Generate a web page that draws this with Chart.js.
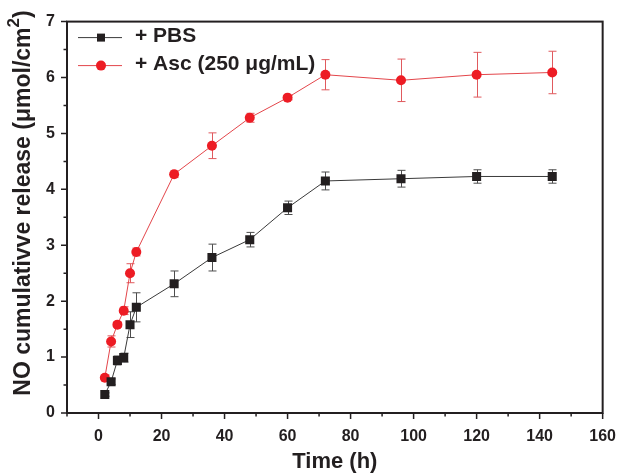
<!DOCTYPE html>
<html>
<head>
<meta charset="utf-8">
<script src="https://cdn.jsdelivr.net/npm/chart.js@4.4.1/dist/chart.umd.min.js"></script>
<style>
  html, body { margin: 0; padding: 0; background: #fff; }
</style>
</head>
<body>
<canvas id="releaseChart" width="630" height="475"></canvas>
<script>
// Sampling times (h)
const timeHours = [2, 4, 6, 8, 10, 12, 24, 36, 48, 60, 72, 96, 120, 144];

// + PBS
const pbsRelease = [0.33, 0.56, 0.94, 0.99, 1.58, 1.89, 2.31, 2.78, 3.10, 3.67, 4.15, 4.19, 4.23, 4.23];
const pbsError   = [0.03, 0.05, 0.08, 0.08, 0.23, 0.26, 0.23, 0.24, 0.13, 0.12, 0.16, 0.15, 0.12, 0.12];

// + Asc (250 µg/mL)
const ascRelease = [0.63, 1.28, 1.58, 1.83, 2.50, 2.88, 4.27, 4.78, 5.28, 5.64, 6.05, 5.95, 6.05, 6.09];
const ascError   = [0.05, 0.10, 0.05, 0.07, 0.17, 0.07, 0.06, 0.23, 0.08, 0.04, 0.27, 0.38, 0.40, 0.38];

const seriesNames = ["+ PBS", "+ Asc (250 \u03BCg/mL)"];
const yTitleParts = ["NO cumulativve release (\u03BCmol/cm", "2", ")"];

const INK = "#231f20";
const RED = "#ed1c24";
const FONT = "'Liberation Sans', Arial, sans-serif";

// Error bars go under the markers
const errorBars = {
  id: "errorBars",
  beforeDatasetsDraw(chart) {
    const { ctx, scales } = chart;
    ctx.save();
    chart.data.datasets.forEach((ds) => {
      ctx.strokeStyle = ds.errorColor;
      ctx.lineWidth = 1;
      ds.data.forEach((pt, i) => {
        const e = ds.errors[i];
        const x = Math.round(scales.x.getPixelForValue(pt.x)) + 0.5;
        const yT = scales.y.getPixelForValue(pt.y + e);
        const yB = scales.y.getPixelForValue(pt.y - e);
        ctx.beginPath();
        ctx.moveTo(x, yT); ctx.lineTo(x, yB);
        ctx.moveTo(x - 4, yT); ctx.lineTo(x + 4, yT);
        ctx.moveTo(x - 4, yB); ctx.lineTo(x + 4, yB);
        ctx.stroke();
      });
    });
    ctx.restore();
  },
};

// Box frame, outward ticks, y title (with superscript) and the legend
const frameAndLegend = {
  id: "frameAndLegend",
  afterDraw(chart) {
    const { ctx, chartArea: a, scales } = chart;
    ctx.save();
    ctx.strokeStyle = INK;
    ctx.lineWidth = 2;
    ctx.strokeRect(a.left, a.top, a.right - a.left, a.bottom - a.top);

    ctx.lineWidth = 1.5;
    ctx.beginPath();
    scales.x.ticks.forEach((t) => {
      const px = scales.x.getPixelForValue(t.value);
      const len = t.value % 20 === 0 ? 6 : 3.5;
      ctx.moveTo(px, a.bottom); ctx.lineTo(px, a.bottom + len);
    });
    scales.y.ticks.forEach((t) => {
      const py = scales.y.getPixelForValue(t.value);
      const len = Number.isInteger(t.value) ? 6 : 3.5;
      ctx.moveTo(a.left, py); ctx.lineTo(a.left - len, py);
    });
    ctx.stroke();

    // y title
    const big = "bold 23px " + FONT;
    const small = "bold 17px " + FONT;
    ctx.font = big;
    const w1 = ctx.measureText(yTitleParts[0]).width;
    const w3 = ctx.measureText(yTitleParts[2]).width;
    ctx.font = small;
    const w2 = ctx.measureText(yTitleParts[1]).width;
    ctx.save();
    ctx.translate(22, 203);
    ctx.rotate(-Math.PI / 2);
    ctx.fillStyle = INK;
    ctx.textBaseline = "alphabetic";
    ctx.textAlign = "left";
    const sx = -(w1 + w2 + w3) / 2;
    ctx.font = big;
    ctx.fillText(yTitleParts[0], sx, 8);
    ctx.font = small;
    ctx.fillText(yTitleParts[1], sx + w1, -3);
    ctx.font = big;
    ctx.fillText(yTitleParts[2], sx + w1 + w2, 8);
    ctx.restore();

    // legend
    const lx = a.left + 11;
    chart.data.datasets.forEach((ds, i) => {
      const ly = a.top + 16 + i * 28;
      ctx.strokeStyle = ds.borderColor;
      ctx.lineWidth = 1;
      ctx.beginPath();
      ctx.moveTo(lx, ly); ctx.lineTo(lx + 44, ly);
      ctx.stroke();
      ctx.fillStyle = ds.pointBackgroundColor;
      if (ds.pointStyle === "rect") {
        ctx.fillRect(lx + 19, ly - 4, 8, 8);
      } else {
        ctx.beginPath();
        ctx.arc(lx + 23, ly, 5, 0, Math.PI * 2);
        ctx.fill();
      }
      ctx.fillStyle = INK;
      ctx.font = "bold 21px " + FONT;
      ctx.textBaseline = "middle";
      ctx.textAlign = "left";
      ctx.fillText(ds.label, lx + 57, ly - 1);
    });
    ctx.restore();
  },
};

new Chart(document.getElementById("releaseChart"), {
  type: "line",
  data: {
    datasets: [
      {
        label: seriesNames[0],
        data: timeHours.map((t, i) => ({ x: t, y: pbsRelease[i] })),
        errors: pbsError,
        errorColor: "#4d4d4d",
        borderColor: "#3a3a3a",
        borderWidth: 1,
        pointStyle: "rect",
        pointRadius: 6.4,
        pointBackgroundColor: INK,
        pointBorderWidth: 0,
      },
      {
        label: seriesNames[1],
        data: timeHours.map((t, i) => ({ x: t, y: ascRelease[i] })),
        errors: ascError,
        errorColor: "#e05a5e",
        borderColor: "#e3454a",
        borderWidth: 1,
        pointStyle: "circle",
        pointRadius: 5,
        pointBackgroundColor: RED,
        pointBorderWidth: 0,
      },
    ],
  },
  options: {
    responsive: false,
    animation: false,
    devicePixelRatio: 1,
    layout: { padding: { top: 10, right: 15, left: 0, bottom: 0 } },
    plugins: { legend: { display: false }, tooltip: { enabled: false } },
    scales: {
      x: {
        type: "linear",
        min: -10,
        max: 160,
        grid: { display: false, drawTicks: false },
        border: { display: false },
        afterFit: (s) => { s.height = 62; },
        ticks: {
          stepSize: 10,
          padding: 14,
          color: INK,
          font: { family: FONT, size: 16, weight: "bold" },
          callback: (v) => (v % 20 === 0 ? v : ""),
          maxRotation: 0,
          autoSkip: false,
        },
        title: {
          display: true,
          text: "Time (h)",
          color: INK,
          font: { family: FONT, size: 22, weight: "bold" },
          padding: { top: 0, bottom: 0 },
        },
      },
      y: {
        min: 0,
        max: 7,
        grid: { display: false, drawTicks: false },
        border: { display: false },
        afterFit: (s) => { s.width = 67; },
        ticks: {
          stepSize: 0.5,
          padding: 12,
          color: INK,
          font: { family: FONT, size: 16, weight: "bold" },
          callback: (v) => (Number.isInteger(v) ? v : ""),
          autoSkip: false,
        },
        title: { display: false },
      },
    },
  },
  plugins: [errorBars, frameAndLegend],
});
</script>
</body>
</html>
